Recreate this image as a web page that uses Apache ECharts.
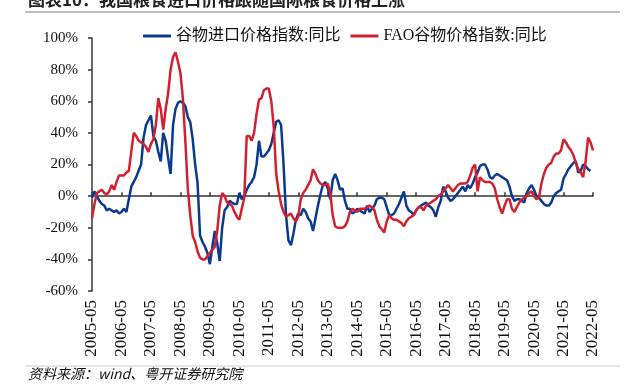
<!DOCTYPE html>
<html>
<head>
<meta charset="utf-8">
<script src="https://cdn.jsdelivr.net/npm/echarts@6/dist/echarts.min.js"></script>
<style>html,body{margin:0;padding:0;background:#fff;}#c{width:627px;height:388px;}</style>
</head>
<body>
<div id="c"></div>
<script>
// Monthly categories 2005-05 .. 2022-05
const startYear = 2005, startMonth = 5, monthCount = 205;
const categories = [];
for (let k = 0; k < monthCount; k++) {
  const m = startMonth - 1 + k;
  const y = startYear + Math.floor(m / 12);
  const mm = (m % 12) + 1;
  categories.push(y + '-' + (mm < 10 ? '0' + mm : '' + mm));
}
const seriesNames = ['谷物进口价格指数:同比', 'FAO谷物价格指数:同比'];
const yTicks = [-60, -40, -20, 0, 20, 40, 60, 80, 100];

const importIndexYoY = [
-1,3,0,-3,-5,-6,-9,-8,-9,-10,
-9,-11,-10,-8,-10,-2,6,9,12,16,
20,37,45,48,51,38,35,28,22,40,
35,24,14,45,55,59,60,59,57,50,
47,36,20,8,-25,-29,-32,-36,-43,-32,
-22,-30,-41,-20,-9,-7,-3,-4,-5,-5,
2,-2,0,4,7,9,12,20,35,25,
25,27,29,33,40,47,48,45,20,-12,
-28,-31,-24,-15,-11,-12,-8,-10,-14,-16,
-22,-14,-6,1,7,9,5,-2,10,14,
10,4,5,-3,-8,-8,-11,-10,-8,-9,
-10,-11,-6,-10,-8,-6,-2,-1,-1,-2,
-7,-12,-12,-11,-8,-5,-1,3,-6,-9,
-10,-12,-9,-7,-6,-5,-4,-6,-7,-9,
-13,-7,-3,6,3,-1,-3,-2,0,2,
4,6,3,7,5,8,12,15,19,20,
20,17,12,11,13,14,13,12,11,10,
6,0,-3,-2,-2,-3,-4,2,5,7,
4,0,-1,-3,-5,-6,-6,-4,0,2,
3,4,11,14,17,19,21,22,15,16,
20,19,17,16,null
];

const faoIndexYoY = [
-14,-5,2,3,4,2,1,3,7,4,
9,13,13,13,15,16,28,40,38,35,
34,33,31,28,33,36,45,62,55,42,
55,65,80,88,91,85,78,62,35,5,
-12,-25,-29,-35,-39,-40,-40,-38,-36,-34,
-32,-22,-6,2,0,-4,-5,-6,-10,-13,
-15,-8,-1,38,38,35,40,52,61,62,
67,68,68,60,44,14,3,-5,-10,-13,
-12,-11,-14,-16,-13,-2,2,4,7,10,
17,14,10,8,7,7,8,2,-12,-19,
-20,-20,-20,-19,-16,-10,-8,-9,-10,-8,
-8,-8,-7,-6,-7,-9,-15,-19,-21,-23,
-16,-12,-14,-15,-15,-16,-17,-19,-16,-14,
-13,-12,-9,-7,-7,-9,-6,-5,-4,-3,
-2,0,1,3,5,7,5,3,5,7,
8,8,8,9,13,18,20,3,12,10,
9,9,9,8,5,-2,-7,-11,-6,-2,
-2,-8,-10,-7,-4,-2,-1,0,2,3,
0,-2,-1,8,14,18,20,21,25,27,
27,29,36,34,31,29,26,21,17,15,
12,22,37,34,29
];

const serif = "'Liberation Serif','Times New Roman','Noto Sans CJK SC',serif";
const blue = '#0A3A8E';
const red = '#D2202E';

const chart = echarts.init(document.getElementById('c'));
chart.setOption({
  animation: false,
  backgroundColor: '#fff',
  grid: { left: 92, right: 34, top: 38, bottom: 97, containLabel: false },
  legend: {
    data: seriesNames,
    left: 138, top: 23,
    itemWidth: 28, itemHeight: 3, itemGap: 10,
    icon: 'rect',
    textStyle: { fontFamily: serif, fontSize: 16, color: '#111' }
  },
  xAxis: [
    {
      type: 'category', data: categories, boundaryGap: false, position: 'bottom',
      axisLine: { show: false, onZero: false }, axisTick: { show: false },
      axisLabel: { interval: 11, rotate: 90, margin: 9, fontFamily: serif, fontSize: 17, color: '#111' },
      splitLine: { show: false }
    },
    {
      type: 'category', data: categories, boundaryGap: false, position: 'top',
      axisLine: { show: true, onZero: true, lineStyle: { color: '#333', width: 1.5 } },
      axisTick: { show: true, interval: 11, inside: false, length: 4, lineStyle: { color: '#333', width: 1.5 } },
      axisLabel: { show: false }, splitLine: { show: false }
    }
  ],
  yAxis: {
    type: 'value', min: -60, max: 100, interval: 20,
    axisLine: { show: true, lineStyle: { color: '#333', width: 1.5 } },
    axisTick: { show: true, inside: false, length: 4, lineStyle: { color: '#333', width: 1.5 } },
    axisLabel: { margin: 14, fontFamily: serif, fontSize: 15, color: '#111', formatter: v => v + '%' },
    splitLine: { show: false }
  },
  series: [
    { name: seriesNames[0], type: 'line', data: importIndexYoY, xAxisIndex: 0, symbol: 'none', connectNulls: false,
      lineStyle: { color: blue, width: 2.5 }, itemStyle: { color: blue } },
    { name: seriesNames[1], type: 'line', data: faoIndexYoY, xAxisIndex: 0, symbol: 'none',
      lineStyle: { color: red, width: 2.5 }, itemStyle: { color: red } }
  ],
  graphic: [
    { type: 'text', left: 28, top: -9, silent: true,
      style: { text: '图表10：我国粮食进口价格跟随国际粮食价格上涨', font: "bold 17px 'Noto Sans CJK SC'", fill: '#222' } },
    { type: 'line', silent: true, shape: { x1: 25, y1: 12, x2: 620, y2: 12 }, style: { stroke: '#aaa', lineWidth: 1.5 } },
    { type: 'line', silent: true, shape: { x1: 25, y1: 366, x2: 620, y2: 366 }, style: { stroke: '#ccc', lineWidth: 1 } },
    { type: 'text', left: 28, top: 367, silent: true,
      style: { text: '资料来源：wind、粤开证券研究院', font: "italic 14px 'Noto Sans CJK SC'", fill: '#111' } }
  ]
});
</script>
</body>
</html>
